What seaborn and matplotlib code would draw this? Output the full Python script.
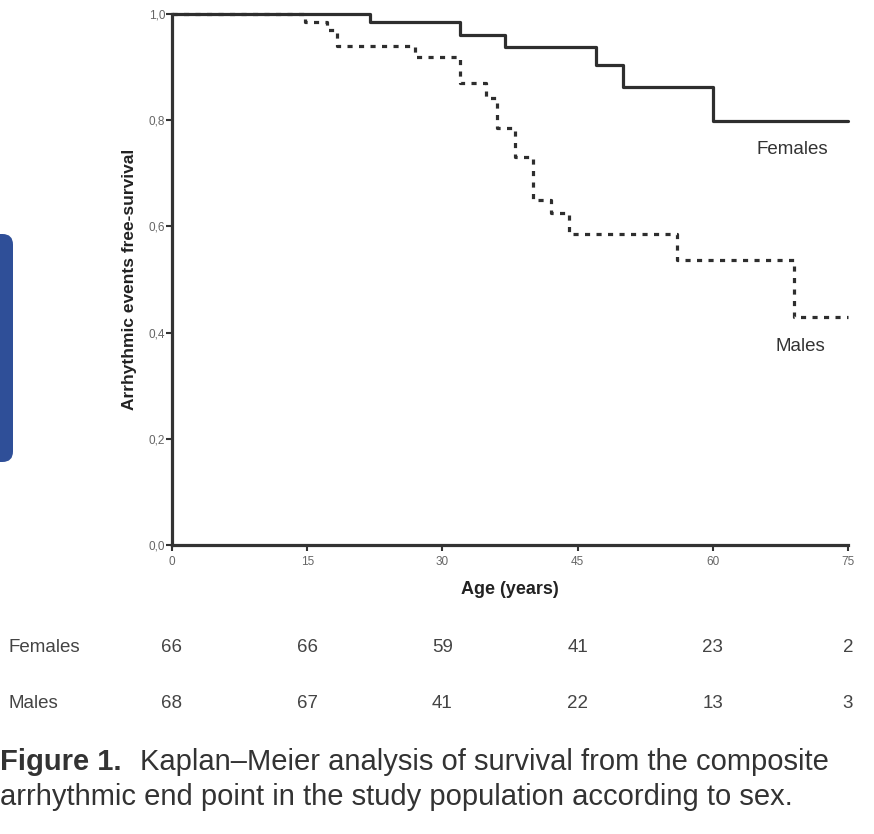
import matplotlib
matplotlib.use("Agg")
import matplotlib.pyplot as plt
from matplotlib.patches import FancyBboxPatch
import seaborn as sns
import pandas as pd

female_age = [0, 22, 32, 37, 47, 50, 60, 75]
female_surv = [1.0, 0.984, 0.961, 0.937, 0.904, 0.862, 0.798, 0.798]
male_age = [0, 14.8, 17.2, 18.3, 27, 32, 34.8, 36.1, 38, 40, 42, 44, 56, 69, 75]
male_surv = [1.0, 0.985, 0.97, 0.94, 0.919, 0.87, 0.842, 0.785, 0.731, 0.65, 0.625, 0.585, 0.537, 0.43, 0.43]

x_ticks = [0, 15, 30, 45, 60, 75]
y_ticks = [0.0, 0.2, 0.4, 0.6, 0.8, 1.0]
y_tick_labels = ["0,0", "0,2", "0,4", "0,6", "0,8", "1,0"]
risk_groups = ["Females", "Males"]
females_at_risk = [66, 66, 59, 41, 23, 2]
males_at_risk = [68, 67, 41, 22, 13, 3]

sns.set_theme(style="white")
plt.rcParams["font.family"] = ["Liberation Sans", "DejaVu Sans"]

W, H = 874, 834
fig = plt.figure(figsize=(W / 100, H / 100), dpi=100)
ax = fig.add_axes([172 / W, 1 - 545 / H, (848 - 172) / W, (545 - 14) / H])

df_f = pd.DataFrame({"age": female_age, "surv": female_surv})
df_m = pd.DataFrame({"age": male_age, "surv": male_surv})

sns.lineplot(data=df_f, x="age", y="surv", ax=ax, estimator=None, sort=False,
             drawstyle="steps-post", color="#2e2e2e", linewidth=2.3, clip_on=False)
sns.lineplot(data=df_m, x="age", y="surv", ax=ax, estimator=None, sort=False,
             drawstyle="steps-post", color="#2e2e2e", linewidth=2.3,
             linestyle=(0, (1.6, 2.0)), clip_on=False)

ax.set_xlim(0, 75)
ax.set_ylim(0, 1)
ax.set_xticks(x_ticks)
ax.set_xticklabels([str(v) for v in x_ticks])
ax.set_yticks(y_ticks)
ax.set_yticklabels(y_tick_labels)
for s in ["top", "right"]:
    ax.spines[s].set_visible(False)
for s in ["left", "bottom"]:
    ax.spines[s].set_linewidth(2.3)
    ax.spines[s].set_color("#333333")
ax.tick_params(axis="both", which="major", direction="out", length=4, width=1.5,
               color="#333333", labelsize=8.5, labelcolor="#666666",
               left=True, bottom=True)
ax.tick_params(axis="x", pad=4)
ax.tick_params(axis="y", pad=1)
ax.set_xlabel("Age (years)", fontsize=13, fontweight="bold", color="#222222", labelpad=9)
ax.set_ylabel("Arrhythmic events free-survival", fontsize=12.5, fontweight="bold",
              color="#222222", labelpad=8)

ax.text(68.8, 0.745, "Females", fontsize=13.5, color="#333333", ha="center", va="center")
ax.text(69.7, 0.373, "Males", fontsize=13.5, color="#333333", ha="center", va="center")

# numbers at risk
for row_y, name, vals in [(647, risk_groups[0], females_at_risk), (704, risk_groups[1], males_at_risk)]:
    fig.text(8 / W, 1 - row_y / H, name, fontsize=13.5, color="#444444", ha="left", va="center")
    for xv, v in zip(x_ticks, vals):
        px = 172 + xv * (848 - 172) / 75
        fig.text(px / W, 1 - row_y / H, str(v), fontsize=13.5, color="#444444",
                 ha="center", va="center")

# caption
fig.text(0 / W, 1 - 762 / H, "Figure 1.", fontsize=21, fontweight="bold", color="#333333",
         ha="left", va="center")
fig.text(140 / W, 1 - 762 / H, "Kaplan–Meier analysis of survival from the composite",
         fontsize=21, color="#333333", ha="left", va="center")
fig.text(0 / W, 1 - 797 / H, "arrhythmic end point in the study population according to sex.",
         fontsize=21, color="#333333", ha="left", va="center")

# blue rounded shape on left edge
patch = FancyBboxPatch((-20 / W, 1 - 462 / H), 33 / W, 228 / H,
                       boxstyle="round,pad=0,rounding_size=0.012",
                       transform=fig.transFigure, facecolor="#2f4f98", edgecolor="none",
                       mutation_aspect=W / H)
fig.patches.append(patch)

fig.savefig("out.png", dpi=100)
